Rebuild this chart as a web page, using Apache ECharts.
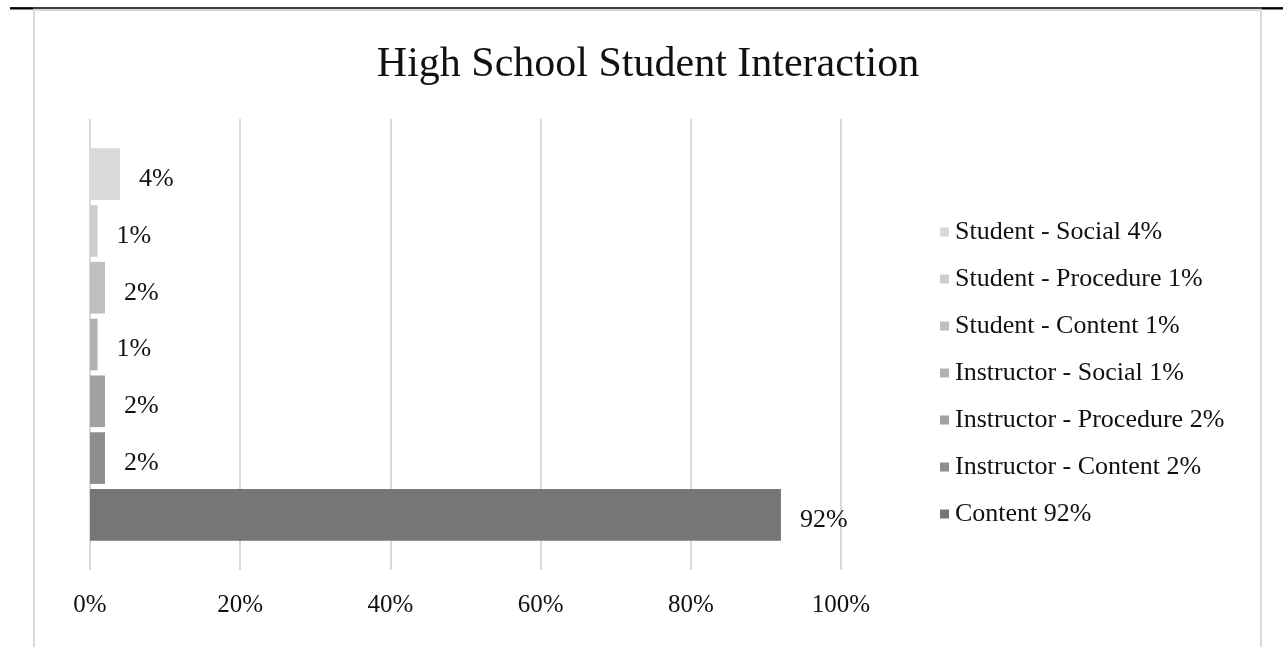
<!DOCTYPE html>
<html>
<head>
<meta charset="utf-8">
<title>High School Student Interaction</title>
<script src="https://cdn.jsdelivr.net/npm/echarts@6/dist/echarts.min.js"></script>
<style>
  html, body { margin: 0; padding: 0; background: #ffffff; }
  #chart { width: 1283px; height: 647px; }
</style>
</head>
<body>
<div id="chart"></div>
<script>
// Interaction categories, top bar first
const seriesNames = [
  'Student - Social 4%',
  'Student - Procedure 1%',
  'Student - Content 1%',
  'Instructor - Social 1%',
  'Instructor - Procedure 2%',
  'Instructor - Content 2%',
  'Content 92%'
];
// Share of interactions (percent), as labelled on each bar
const seriesValues = [4, 1, 2, 1, 2, 2, 92];
// Grey ramp, lightest at the top
const seriesColors = ['#d9d9d9', '#cdcdcd', '#bfbfbf', '#b2b2b2', '#a2a2a2', '#8e8e8e', '#767676'];
const xTicks = [0, 20, 40, 60, 80, 100];

const FONT = '"Liberation Serif", "Times New Roman", serif';
const TEXT = '#111111';

const chart = echarts.init(document.getElementById('chart'), null, { renderer: 'canvas' });

const series = seriesNames.map((name, i) => ({
  name: name,
  type: 'bar',
  data: [seriesValues[i]],
  itemStyle: { color: seriesColors[i] },
  barGap: '10%',
  barCategoryGap: '13%',
  label: {
    show: true,
    position: 'right',
    distance: 19,
    offset: [0, 5],
    formatter: '{c}%',
    fontFamily: FONT,
    fontSize: 26,
    color: TEXT
  },
  emphasis: { disabled: true }
}));

chart.setOption({
  animation: false,
  backgroundColor: '#ffffff',
  title: {
    text: 'High School Student Interaction',
    left: 643,
    top: 39,
    textAlign: 'center',
    textStyle: { fontFamily: FONT, fontSize: 42, fontWeight: 'normal', color: TEXT }
  },
  legend: {
    orient: 'vertical',
    left: 940,
    top: 219,
    padding: 0,
    itemWidth: 9,
    itemHeight: 9,
    itemGap: 21,
    icon: 'rect',
    data: seriesNames,
    textStyle: { fontFamily: FONT, fontSize: 26, color: TEXT, lineHeight: 26, padding: [0, 0, 0, 1] }
  },
  grid: { left: 90, top: 119, width: 751, height: 451 },
  xAxis: {
    type: 'value',
    min: xTicks[0],
    max: xTicks[xTicks.length - 1],
    interval: xTicks[1] - xTicks[0],
    axisLine: { show: false },
    axisTick: { show: false },
    axisLabel: {
      formatter: '{value}%',
      margin: 23,
      fontFamily: FONT,
      fontSize: 25,
      color: TEXT
    },
    splitLine: { show: true, lineStyle: { color: '#d9d9d9', width: 2 } }
  },
  yAxis: {
    type: 'category',
    data: [''],
    inverse: true,
    axisLine: { show: false },
    axisTick: { show: false },
    axisLabel: { show: false }
  },
  graphic: [
    // page rule across the top
    { type: 'line', shape: { x1: 10, y1: 8, x2: 1283, y2: 8 }, style: { stroke: '#000000', lineWidth: 1.5 } },
    { type: 'line', shape: { x1: 10, y1: 8.5, x2: 33, y2: 8.5 }, style: { stroke: '#000000', lineWidth: 2 } },
    { type: 'line', shape: { x1: 1262, y1: 8.5, x2: 1283, y2: 8.5 }, style: { stroke: '#000000', lineWidth: 2 } },
    // chart frame
    { type: 'rect', shape: { x: 34, y: 10, width: 1227, height: 700 }, style: { fill: 'none', stroke: '#d9d9d9', lineWidth: 2 } }
  ],
  series: series
});
</script>
</body>
</html>
